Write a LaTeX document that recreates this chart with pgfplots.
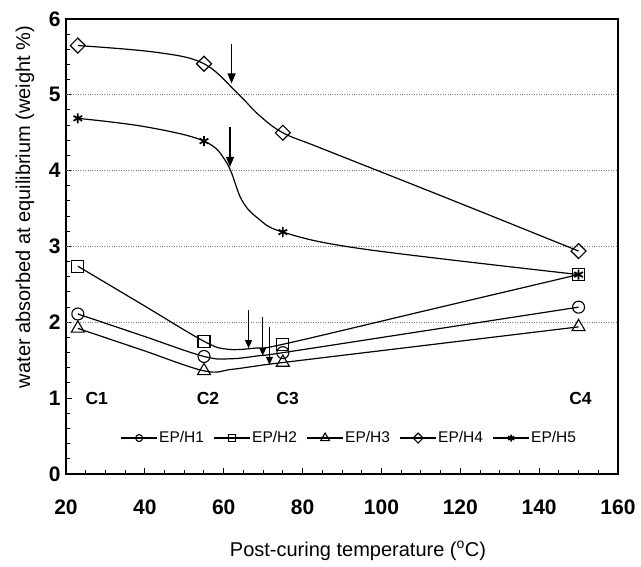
\documentclass[border=0pt]{standalone}
\usepackage{pgfplots}
\pgfplotsset{compat=1.18}
\usepackage{fontspec}
\setmainfont{Liberation Sans}
\usetikzlibrary{arrows.meta}
\begin{document}
\begin{tikzpicture}
\begin{axis}[
  scale only axis,
  width=552pt, height=455pt,
  xmin=20, xmax=160, ymin=0, ymax=6,
  xtick={20,40,...,160}, ytick={0,1,...,6},
  minor x tick num=3, minor y tick num=4,
  xtick pos=left, ytick pos=left,
  tick align=inside,
  major tick length=6pt, minor tick length=4pt,
  every tick/.style={black, line width=1pt},
  axis line style={line width=2.5pt},
  /pgf/number format/assume math mode=true,
  ticklabel style={font=\fontsize{21}{21}\selectfont\bfseries},
  xticklabel style={yshift=-22pt},
  yticklabel style={xshift=-2pt},
  extra y ticks={2,3,4,5},
  extra y tick labels={},
  extra y tick style={grid=major, major tick length=0pt},
  major grid style={gray, dotted, line width=0.8pt},
  xlabel={Post-curing temperature (\textsuperscript{o}C)},
  ylabel={water absorbed at equilibrium (weight \%)},
  label style={font=\fontsize{20}{20}\selectfont},
  xlabel style={at={(axis description cs:0.529,0)}, anchor=center, yshift=-77pt},
  ylabel style={at={(axis description cs:0,0.587)}, anchor=center, yshift=41pt},
  legend columns=5,
  legend style={draw=none, fill=none, at={(axis description cs:0.5127,0.079)}, anchor=center,
    font=\fontsize{15.5}{16}\selectfont, nodes={inner xsep=1.5pt},
    /tikz/every even column/.append style={column sep=8pt}},
  legend image code/.code={\draw[mark indices={2}] plot coordinates {(0pt,0pt)(18pt,0pt)(36pt,0pt)};},
  legend image post style={mark size=3.5pt},
  every axis plot/.append style={black, line width=1.2pt, smooth, tension=0.6, mark options={fill=white, solid, line width=1.1pt}},
]
% EP/H1
\addplot[mark=o, mark size=6pt, mark indices={1,3,6,8}] coordinates {
 (23,2.11) (39,1.83) (55,1.55) (62,1.52) (69,1.56) (75,1.60) (112.5,1.90) (150,2.20)};
\addlegendentry{EP/H1}
% EP/H2
\addplot[mark=square, mark size=6pt, mark indices={1,3,6,8}] coordinates {
 (23,2.74) (39,2.245) (55,1.75) (61,1.645) (68,1.66) (75,1.71) (112.5,2.17) (150,2.63)};
\addlegendentry{EP/H2}
% EP/H3
\addplot[mark=triangle, mark size=7.5pt, mark indices={1,3,6,8}, legend image post style={mark size=5pt}] coordinates {
 (23,1.92) (39,1.64) (55,1.36) (62,1.38) (69,1.43) (75,1.47) (112.5,1.705) (150,1.94)};
\addlegendentry{EP/H3}
% EP/H4
\addplot[mark=square, mark size=5.3pt, mark options={rotate=45}, mark indices={1,3,6,9}] coordinates {
 (23,5.65) (43,5.56) (55,5.41) (63.7,5.01) (68.8,4.74) (75,4.50) (85,4.29) (117.5,3.62) (150,2.94)};
\addlegendentry{EP/H4}
% EP/H5
\addplot[mark=asterisk, mark size=5pt, mark options={line width=1.7pt}, mark indices={1,3,7,9}] coordinates {
 (23,4.69) (40,4.58) (55,4.39) (60.8,4.10) (64.5,3.62) (68.5,3.38) (75,3.19) (95,2.97) (150,2.63)};
\addlegendentry{EP/H5}
% arrows
\draw[line width=1.3pt, -{Triangle[length=10pt,width=8pt]}] (axis cs:62,5.67) -- (axis cs:62,5.15);
\draw[line width=1.3pt, -{Triangle[length=10pt,width=8pt]}] (axis cs:61.6,4.58) -- (axis cs:61.6,4.05);
\draw[line width=1.1pt, -{Triangle[length=8pt,width=7pt]}] (axis cs:66.3,2.16) -- (axis cs:66.3,1.66);
\draw[line width=1.1pt, -{Triangle[length=8pt,width=7pt]}] (axis cs:69.9,2.07) -- (axis cs:69.9,1.56);
\draw[line width=1.1pt, -{Triangle[length=8pt,width=7pt]}] (axis cs:71.6,1.94) -- (axis cs:71.6,1.44);
% condition labels
\node[font=\fontsize{17.5}{18}\selectfont\bfseries] at (axis cs:27.8,0.99) {C1};
\node[font=\fontsize{17.5}{18}\selectfont\bfseries] at (axis cs:56,0.99) {C2};
\node[font=\fontsize{17.5}{18}\selectfont\bfseries] at (axis cs:76.2,0.99) {C3};
\node[font=\fontsize{17.5}{18}\selectfont\bfseries] at (axis cs:150.5,0.99) {C4};
\end{axis}
\path ([shift={(-66pt,-93pt)}]current axis.south west) rectangle ([shift={(23pt,19pt)}]current axis.north east);
\end{tikzpicture}
\end{document}
